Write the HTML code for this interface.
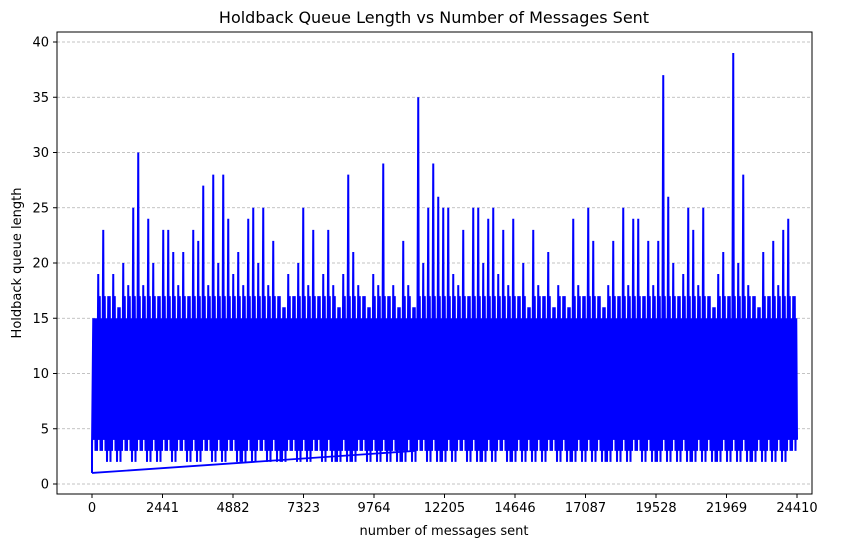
<!DOCTYPE html>
<html><head><meta charset="utf-8">
<style>
html,body{margin:0;padding:0;background:#fff;}
svg{display:block;font-family:"DejaVu Sans","Liberation Sans",sans-serif;}
</style></head>
<body>
<svg id="chart" width="841" height="547" viewBox="0 0 841 547">
<rect x="0" y="0" width="841" height="547" fill="#fff"/>
<text x="434" y="23" text-anchor="middle" font-size="16" fill="#000">Holdback Queue Length vs Number of Messages Sent</text>
<g id="grid"></g>
<g id="series"></g>
<rect x="57" y="32" width="755" height="462" fill="none" stroke="#000" stroke-width="1"/>
<g id="xaxis"></g>
<g id="yaxis"></g>
<text x="444" y="535" text-anchor="middle" font-size="13">number of messages sent</text>
<text transform="translate(21,263) rotate(-90)" text-anchor="middle" font-size="13">Holdback queue length</text>
</svg>
<script>
const xTicks = [0,2441,4882,7323,9764,12205,14646,17087,19528,21969,24410];
const yTicks = [0,5,10,15,20,25,30,35,40];
const totalMessages = 24410;
const binMax = [15,19,23,17,19,16,20,18,25,30,18,24,20,17,23,23,21,18,21,17,23,22,27,18,28,20,28,24,19,21,18,24,25,20,25,18,22,17,16,19,17,20,25,18,23,17,19,23,18,16,19,28,21,18,17,16,19,18,29,17,18,16,22,18,16,35,20,25,29,26,25,25,19,18,23,17,25,25,20,24,25,19,23,18,24,17,20,16,23,18,17,21,16,18,17,16,24,18,17,25,22,17,16,18,22,17,25,18,24,24,17,22,18,22,37,26,20,17,19,25,23,18,25,17,16,19,21,17,39,20,28,18,17,16,21,17,22,18,23,24,17];
const binMin = [3,3,3,2,3,2,3,3,2,3,3,2,3,2,3,3,2,3,3,2,3,2,3,3,2,3,2,3,3,2,2,3,2,3,3,2,3,2,2,3,3,2,3,2,3,3,2,3,2,2,3,2,2,3,3,2,3,2,3,2,3,2,2,3,2,3,3,2,3,2,2,3,2,3,3,2,3,2,2,3,2,3,3,2,2,3,2,3,2,3,2,3,3,2,3,2,2,3,2,3,2,3,2,2,3,2,3,2,3,3,2,3,2,2,3,2,3,2,3,2,2,3,2,3,2,2,3,2,3,2,3,2,2,3,2,3,2,3,2,3,3];
const bandRange = [4, 13];
const returnLineX = [0, 11200];
const returnLineY = [1, 3];

const X0=92, X1=797, Y0=484, Ypu=11.05;
const sx = v => X0 + (v/totalMessages)*(X1-X0);
const sy = v => Y0 - v*Ypu;
const NS="http://www.w3.org/2000/svg";
function mk(tag, attrs, parent){const e=document.createElementNS(NS,tag);for(const k in attrs)e.setAttribute(k,attrs[k]);parent.appendChild(e);return e;}

const grid=document.getElementById('grid');
const yax=document.getElementById('yaxis');
yTicks.forEach(t=>{
  const g=mk('line',{x1:57,x2:812,y1:sy(t),y2:sy(t),stroke:'#b0b0b0','stroke-width':0.8,'stroke-dasharray':'3,2'},grid);
  
  
  const tk=mk('line',{x1:53,x2:57,y1:sy(t),y2:sy(t),stroke:'#000'},yax);
  
  
  const lb=mk('text',{x:49,y:sy(t)+4.5,'text-anchor':'end','font-size':13},yax);
  lb.textContent=t;
  
  
});
const xax=document.getElementById('xaxis');
xTicks.forEach(t=>{
  const tk=mk('line',{x1:sx(t),x2:sx(t),y1:494,y2:498,stroke:'#000'},xax);
  
  
  const lb=mk('text',{x:sx(t),y:512,'text-anchor':'middle','font-size':13},xax);
  lb.textContent=t;
  
  
});

const ser=document.getElementById('series');
const n=binMax.length;
const step=totalMessages/n;
const band=mk('rect',{x:sx(0),y:sy(bandRange[1]),width:sx(totalMessages)-sx(0),height:sy(bandRange[0])-sy(bandRange[1]),fill:'#0000ff'},ser);


let pts=[];
for(let i=0;i<n;i++){
  const a=i*step;
  const mid=Math.min(binMax[i],bandRange[1]+4);
  pts.push(sx(a)+','+sy(binMin[i]));
  pts.push(sx(a+step*0.25)+','+sy(binMax[i]));
  pts.push(sx(a+step*0.4)+','+sy(binMin[i]+1));
  pts.push(sx(a+step*0.55)+','+sy(mid));
  pts.push(sx(a+step*0.7)+','+sy(binMin[i]));
  pts.push(sx(a+step*0.85)+','+sy(Math.min(binMax[i],bandRange[1]+2)));
}
pts.push(sx(totalMessages)+','+sy(bandRange[0]));
const pl=mk('polyline',{points:pts.join(' '),fill:'none',stroke:'#0000ff','stroke-width':2,'stroke-linejoin':'miter'},ser);


const rl=mk('polyline',{points:returnLineX.map((v,i)=>sx(v)+','+sy(returnLineY[i])).join(' '),fill:'none',stroke:'#0000ff','stroke-width':1.8},ser);


const vl=mk('line',{x1:sx(0),x2:sx(0),y1:sy(returnLineY[0]),y2:sy(bandRange[0]),stroke:'#0000ff','stroke-width':2},ser);


</script>
</body></html>
